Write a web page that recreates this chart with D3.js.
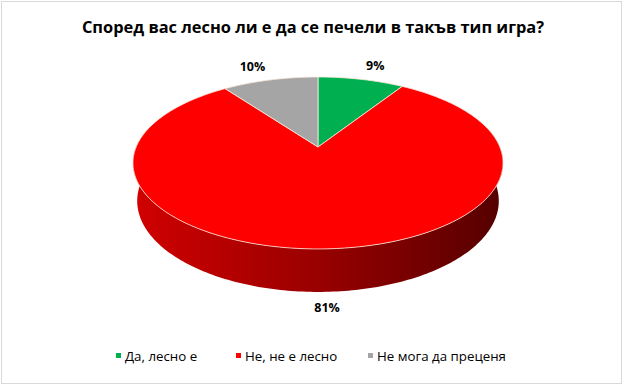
<!DOCTYPE html>
<html><head>
<meta charset="utf-8">
<script src="https://d3js.org/d3.v7.min.js"></script>
<style>
  body { margin: 0; background: #fff; }
  text { font-family: "Open Sans", "DejaVu Sans", sans-serif; fill: #000; }
  text.title { font-weight: bold; font-size: 16.4px; text-anchor: middle; }
  text.label { font-weight: bold; font-size: 12.5px; text-anchor: middle; }
  text.legend { font-size: 13.3px; }
</style>
</head>
<body>
<svg id="chart" width="624" height="386"></svg>
<script>

// data
const categories = ["Да, лесно е", "Не, не е лесно", "Не мога да преценя"];
const shares = [9, 81, 10];
const labels = ["9%", "81%", "10%"];
const colors = ["#00B050", "#FF0000", "#A5A5A5"];
const titleText = "Според вас лесно ли е да се печели в такъв тип игра?";

const svg = d3.select("#chart");
const width = +svg.attr("width");
const height = +svg.attr("height");

// chart area border
svg.append("rect")
   .attr("x", 1.5).attr("y", 1.5)
   .attr("width", width - 4).attr("height", height - 4)
   .attr("fill", "none").attr("stroke", "#d9d9d9");

svg.append("text").attr("class", "title")
   .attr("x", width / 2 + 1).attr("y", 33)
   .text(titleText);

// simple perspective camera for the 3d disc
const cx = 318, cy = 147;    // screen point of the disc centre
const scale = 181.8;
const dist = 4.79;           // camera distance (in disc radii)
const tilt = Math.asin(0.4566);
const depth = 0.2366;        // disc thickness (in radii)

// a = angle clockwise from 12 o'clock, r = radius, yh = height (0 top, -depth bottom)
function project(a, r, yh) {
  const X = r * Math.sin(a), Z = r * Math.cos(a);
  const yc = yh * Math.cos(tilt) + Z * Math.sin(tilt);
  const zc = dist + Z * Math.cos(tilt) - yh * Math.sin(tilt);
  const f = dist / zc;
  return [cx + scale * X * f, cy - scale * yc * f];
}

function ringPoints(a0, a1, yh) {
  const n = Math.max(2, Math.ceil(Math.abs(a1 - a0) / (Math.PI / 180)));
  return d3.range(n + 1).map(i => project(a0 + (a1 - a0) * i / n, 1, yh));
}

const pie = d3.pie().sort(null).value(d => d)
              .startAngle(0).endAngle(2 * Math.PI);
const arcs = pie(shares);
const line = d3.line();

// gradient for the side wall
const grad = svg.append("defs").append("linearGradient")
   .attr("id", "wall").attr("gradientUnits", "userSpaceOnUse")
   .attr("x1", cx - scale).attr("x2", cx + scale).attr("y1", 0).attr("y2", 0);
grad.append("stop").attr("offset", "0%").attr("stop-color", "#d00000");
grad.append("stop").attr("offset", "50%").attr("stop-color", "#990000");
grad.append("stop").attr("offset", "100%").attr("stop-color", "#560000");

// walls: only the front half can be seen
const frontA = Math.PI * 75 / 180, frontB = Math.PI * 285 / 180;
const layer = svg.append("g");
arcs.forEach((d, i) => {
  const a0 = Math.max(d.startAngle, frontA), a1 = Math.min(d.endAngle, frontB);
  if (a1 <= a0) return;
  const top = ringPoints(a0, a1, 0);
  const bottom = ringPoints(a1, a0, -depth);
  layer.append("path")
       .attr("d", line(top.concat(bottom)) + "Z")
       .attr("fill", i === 1 ? "url(#wall)" : d3.color(colors[i]).darker(1.2));
});

// top face
layer.selectAll("path.slice").data(arcs)
     .join("path")
     .attr("class", "slice")
     .attr("d", d => line([[cx, cy]].concat(ringPoints(d.startAngle, d.endAngle, 0))) + "Z")
     .attr("fill", (d, i) => colors[i])
     .attr("stroke", "#fbe9dc")
     .attr("stroke-width", 0.8)
     .attr("stroke-linejoin", "round");

// data labels
svg.selectAll("text.label").data(arcs)
   .join("text")
   .attr("class", "label")
   .text((d, i) => labels[i])
   .each(function (d) {
     const mid = (d.startAngle + d.endAngle) / 2;
     const front = Math.cos(mid) < 0;
     const p = project(mid, 1, front ? -depth : 0);
     const half = this.getComputedTextLength() / 2;
     const s = Math.max(-1, Math.min(1, Math.sin(mid) * 4));
     const dx = s * (half + 5);
     const dy = front ? 16 : -Math.cos(mid) * 14;
     d3.select(this).attr("x", p[0] + dx).attr("y", p[1] + dy + 4.5);
   });

// legend
const legendX = [116, 236, 368];
const legend = svg.selectAll("g.legend").data(categories)
   .join("g").attr("class", "legend")
   .attr("transform", (d, i) => `translate(${legendX[i]}, 356)`);
legend.append("rect")
      .attr("x", 0).attr("y", -3).attr("width", 5).attr("height", 5)
      .attr("fill", (d, i) => colors[i]);
legend.append("text").attr("class", "legend")
      .attr("x", 9).attr("y", 5)
      .text(d => d);

</script>
</body>
</html>
